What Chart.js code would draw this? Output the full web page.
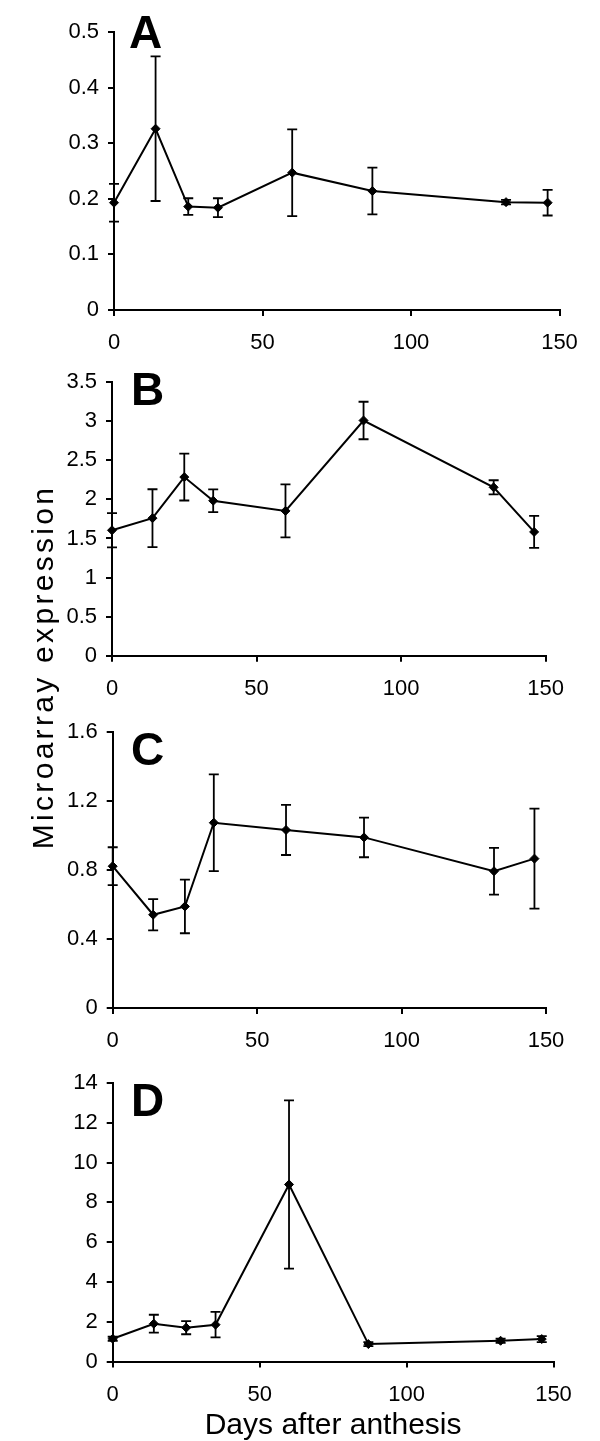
<!DOCTYPE html>
<html>
<head>
<meta charset="utf-8">
<script src="https://cdn.jsdelivr.net/npm/chart.js@4.4.1/dist/chart.umd.min.js"></script>
<style>
  html, body { margin: 0; padding: 0; background: #fff; }
  body { width: 600px; height: 1441px; position: relative; overflow: hidden; }
  canvas { position: absolute; left: 0; }
  #ytitle {
    position: absolute; width: 380px; height: 36px; line-height: 36px;
    left: -147px; top: 649px; text-align: center;
    font-family: "Liberation Sans", Arial, sans-serif; font-size: 30px;
    letter-spacing: 3.3px; color: #000; white-space: nowrap;
    transform: rotate(-90deg); transform-origin: 50% 50%;
  }
</style>
</head>
<body>
<canvas id="cA" width="600" height="360" style="top:0px"></canvas>
<canvas id="cB" width="600" height="360" style="top:360px"></canvas>
<canvas id="cC" width="600" height="380" style="top:690px"></canvas>
<canvas id="cD" width="600" height="395" style="top:1050px"></canvas>
<div id="ytitle">Microarray expression</div>
<script>
// ---- data ----
const days = [0, 14, 25, 35, 60, 87, 132, 146];
const xTicks = [0, 50, 100, 150];

const valuesA = [0.193, 0.326, 0.186, 0.184, 0.247, 0.214, 0.194, 0.193];
const errorsA = [0.034, 0.130, 0.015, 0.017, 0.078, 0.042, 0.004, 0.023];
const yTicksA = [0, 0.1, 0.2, 0.3, 0.4, 0.5];

const valuesB = [1.605, 1.76, 2.286, 1.983, 1.853, 3.01, 2.155, 1.584];
const errorsB = [0.22, 0.37, 0.30, 0.145, 0.34, 0.24, 0.09, 0.205];
const yTicksB = [0, 0.5, 1, 1.5, 2, 2.5, 3, 3.5];

const valuesC = [0.821, 0.540, 0.588, 1.073, 1.031, 0.988, 0.792, 0.865];
const errorsC = [0.11, 0.09, 0.155, 0.28, 0.145, 0.115, 0.135, 0.29];
const yTicksC = [0, 0.4, 0.8, 1.2, 1.6];

const valuesD = [1.144, 1.90, 1.70, 1.85, 8.90, 0.875, 1.043, 1.127];
const errorsD = [0.10, 0.45, 0.33, 0.64, 4.23, 0.10, 0.10, 0.15];
const yTicksD = [0, 2, 4, 6, 8, 10, 12, 14];

const xTitle = 'Days after anthesis';

// ---- plugins ----
const errorBarPlugin = {
  id: 'errbars',
  afterDatasetsDraw(chart) {
    const ctx = chart.ctx;
    const xs = chart.scales.x, ys = chart.scales.y;
    const ds = chart.data.datasets[0];
    ctx.save();
    ctx.strokeStyle = '#000';
    ctx.lineWidth = 1.8;
    ds.data.forEach((p, i) => {
      const e = ds.errors[i];
      const px = xs.getPixelForValue(p.x);
      const top = ys.getPixelForValue(p.y + e);
      const bot = ys.getPixelForValue(p.y - e);
      ctx.beginPath();
      ctx.moveTo(px, top); ctx.lineTo(px, bot);
      ctx.moveTo(px - 5, top); ctx.lineTo(px + 5, top);
      ctx.moveTo(px - 5, bot); ctx.lineTo(px + 5, bot);
      ctx.stroke();
    });
    ctx.restore();
  }
};

const letterPlugin = {
  id: 'panelLetter',
  afterDraw(chart, args, opts) {
    const ctx = chart.ctx;
    ctx.save();
    ctx.font = 'bold 46px "Liberation Sans", Arial, sans-serif';
    ctx.fillStyle = '#000';
    ctx.textBaseline = 'alphabetic';
    ctx.textAlign = 'left';
    ctx.fillText(opts.text, opts.x, opts.y);
    ctx.restore();
  }
};

Chart.defaults.font.family = '"Liberation Sans", Arial, sans-serif';
Chart.defaults.font.size = 22;
Chart.defaults.color = '#000';

function makeChart(id, values, errors, yTicks, geom, letter, withTitle) {
  const pts = days.map((d, i) => ({ x: d, y: values[i] }));
  return new Chart(document.getElementById(id), {
    type: 'line',
    data: {
      datasets: [{
        data: pts,
        errors: errors,
        borderColor: '#000',
        borderWidth: 2,
        backgroundColor: '#000',
        pointStyle: 'rectRot',
        pointRadius: 4.5,
        pointBackgroundColor: '#000',
        pointBorderColor: '#000',
        pointBorderWidth: 1,
        tension: 0,
        clip: false
      }]
    },
    options: {
      responsive: false,
      animation: false,
      events: [],
      layout: { padding: { top: geom.top, right: geom.right, left: 0, bottom: 0 } },
      plugins: {
        legend: { display: false },
        tooltip: { enabled: false },
        panelLetter: letter
      },
      scales: {
        x: {
          type: 'linear',
          min: 0, max: 150,
          afterBuildTicks: s => { s.ticks = xTicks.map(v => ({ value: v })); },
          afterFit: s => { s.height = geom.xh; },
          grid: { drawOnChartArea: false, drawTicks: true, tickLength: 6, color: '#000', lineWidth: 2 },
          border: { color: '#000', width: 2 },
          ticks: { padding: 14, maxRotation: 0, autoSkip: false, font: { size: 22 } },
          title: withTitle ? { display: true, text: xTitle, font: { size: 30 }, padding: { top: 0, bottom: 1 } } : { display: false }
        },
        y: {
          type: 'linear',
          min: yTicks[0], max: yTicks[yTicks.length - 1],
          afterBuildTicks: s => { s.ticks = yTicks.map(v => ({ value: v })); },
          afterFit: s => { s.width = geom.left; },
          grid: { drawOnChartArea: false, drawTicks: true, tickLength: 6, color: '#000', lineWidth: 2 },
          border: { color: '#000', width: 2 },
          ticks: { padding: 9, autoSkip: false, font: { size: 22 }, callback: v => String(v) }
        }
      }
    },
    plugins: [errorBarPlugin, letterPlugin]
  });
}

makeChart('cA', valuesA, errorsA, yTicksA, { top: 32, right: 40.5, left: 114, xh: 50 }, { text: 'A', x: 129, y: 48 }, false);
makeChart('cB', valuesB, errorsB, yTicksB, { top: 19, right: 54.3, left: 112, xh: 64.3 }, { text: 'B', x: 131, y: 405 - 360 }, false);
makeChart('cC', valuesC, errorsC, yTicksC, { top: 41.7, right: 54, left: 112.7, xh: 62 }, { text: 'C', x: 131, y: 765 - 690 }, false);
makeChart('cD', valuesD, errorsD, yTicksD, { top: 33, right: 46.5, left: 112.7, xh: 83.5 }, { text: 'D', x: 131, y: 1116 - 1050 }, true);
</script>
</body>
</html>
